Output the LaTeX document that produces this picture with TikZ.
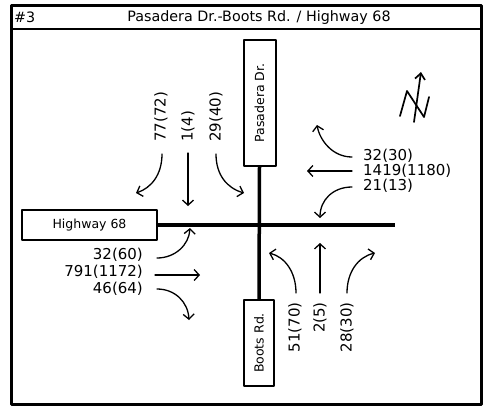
\documentclass[tikz,border=0pt]{standalone}
\usepackage{fontspec}
\setmainfont{DejaVu Sans}
\usepackage{tikz}
\usetikzlibrary{arrows.meta}
\tikzset{
  frame/.style={line width=3pt},
  road/.style={line width=3.5pt},
  namebox/.style={draw,line width=2pt,inner sep=0pt,font=\fontsize{12.5}{15}\selectfont},
  vol/.style={inner sep=0pt,font=\fontsize{15}{18}\selectfont},
  mv/.style={line width=1.3pt,-{Straight Barb[length=5pt,width=11pt,line width=1.3pt]}}
}
\begin{document}
\begin{tikzpicture}[line cap=round,line join=round,x=1pt,y=-1pt]
\useasboundingbox (0,0) rectangle (487,407);
\draw[frame,line cap=rect] (11.5,5.5) rectangle (481.5,404.5);
\draw[line width=1.5pt,line cap=butt] (11.5,29) -- (481.5,29);
\node[anchor=west,inner sep=0pt,font=\fontsize{14.3}{17}\selectfont] (num) at (14,17.5) {\#3};
\node[inner sep=0pt,font=\fontsize{14.3}{17}\selectfont] (title) at (259,17.5) {Pasadera Dr.-Boots Rd. / Highway 68};

\node[namebox,minimum width=32pt,minimum height=126pt] (pas) at (259.5,103) {\rotatebox{90}{Pasadera Dr.}};
\node[namebox,minimum width=30pt,minimum height=86pt] (boots) at (259,343) {\rotatebox{90}{Boots Rd.}};
\node[namebox,minimum width=135pt,minimum height=30pt] (hwy) at (89.5,225) {Highway 68};
\coordinate (hwyE) at (395,225);
\draw[road,line cap=butt] (pas.south) -- (boots.north);
\draw[road,line cap=butt] (hwy.east) -- (hwyE);

\node[vol,rotate=90,anchor=west] (sbR) at (161,142) {77(72)};
\node[vol,rotate=90,anchor=west] (sbT) at (188,142) {1(4)};
\node[vol,rotate=90,anchor=west] (sbL) at (216,142) {29(40)};
\draw[mv] (162,154) .. controls (162,175) and (151,188) .. (136,193);
\draw[mv] (188,153) -- (188,206);
\draw[mv] (216,154) .. controls (216,175) and (227,188) .. (244,193);

\node[vol,anchor=west] (wbR) at (363,156) {32(30)};
\node[vol,anchor=west] (wbT) at (363,171) {1419(1180)};
\node[vol,anchor=west] (wbL) at (363,186) {21(13)};
\draw[mv] (352,157) .. controls (333,157) and (320,141) .. (317,125);
\draw[mv] (352,171) -- (307,171);
\draw[mv] (352,187) .. controls (333,187) and (320,200) .. (320,218);

\node[vol,anchor=east] (ebL) at (143,255) {32(60)};
\node[vol,anchor=east] (ebT) at (143,272) {791(1172)};
\node[vol,anchor=east] (ebR) at (143,289) {46(64)};
\draw[mv] (157,258) .. controls (175,258) and (189,245) .. (190,228);
\draw[mv] (155,275) -- (200,275);
\draw[mv] (157,289) .. controls (175,289) and (188,302) .. (189,320);

\node[vol,rotate=90,anchor=east] (nbL) at (295,302) {51(70)};
\node[vol,rotate=90,anchor=east] (nbT) at (320,302) {2(5)};
\node[vol,rotate=90,anchor=east] (nbR) at (347,302) {28(30)};
\draw[mv] (296,293) .. controls (296,272) and (285,257) .. (269,253);
\draw[mv] (320,293) -- (320,243);
\draw[mv] (347,293) .. controls (347,272) and (358,257) .. (375,253);

\draw[line width=1.7pt] (400,116) -- (407,91) -- (424,117) -- (429,97);
\draw[line width=1.7pt,-{Straight Barb[length=6pt,width=10pt,line width=1.7pt]}] (414,122) -- (421,72);
\end{tikzpicture}
\end{document}
